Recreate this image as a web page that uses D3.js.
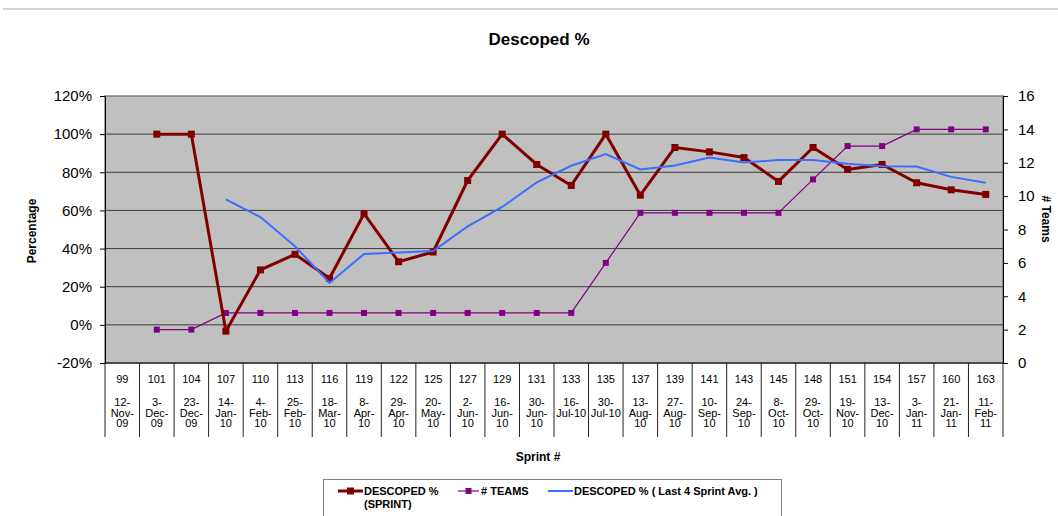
<!DOCTYPE html>
<html><head><meta charset="utf-8">
<script src="https://cdn.jsdelivr.net/npm/d3@7/dist/d3.min.js"></script>
<style>
body{margin:0;background:#fff;}
text{font-family:Arial,"Liberation Sans",sans-serif;fill:#000;}
</style>
</head><body>
<svg id="c" width="1058" height="516"></svg>
<script>
const sprints = ["99","101","104","107","110","113","116","119","122","125","127","129","131","133","135","137","139","141","143","145","148","151","154","157","160","163"];
const dates = ["12-Nov-09","3-Dec-09","23-Dec-09","14-Jan-10","4-Feb-10","25-Feb-10","18-Mar-10","8-Apr-10","29-Apr-10","20-May-10","2-Jun-10","16-Jun-10","30-Jun-10","16-Jul-10","30-Jul-10","13-Aug-10","27-Aug-10","10-Sep-10","24-Sep-10","8-Oct-10","29-Oct-10","19-Nov-10","13-Dec-10","3-Jan-11","21-Jan-11","11-Feb-11"];
const descopedSprint = [null,100,100,-3.3,28.8,37,24.4,58.3,33.1,38.2,75.7,100,84.1,73.1,100,68,93,90.7,87.7,75.2,93,81.5,84.1,74.5,70.8,68.4];
const teams = [null,2,2,3,3,3,3,3,3,3,3,3,3,3,6,9,9,9,9,9,11,13,13,14,14,14];
const descopedAvg4 = [null,null,null,65.8,56.5,41.2,22,37.2,38,38.7,51.6,61.8,74.7,83.4,89.5,81.5,83.6,87.7,85.1,86.5,86.5,84.5,83.2,83,77.6,74.5];
const leftTicks = [-20,0,20,40,60,80,100,120];
const rightTicks = [0,2,4,6,8,10,12,14,16];

const svg = d3.select("#c");
const L = 105, R = 1003, T = 96, B = 363;

const x = d3.scaleBand().domain(sprints).range([L, R]).padding(0);
const yL = d3.scaleLinear().domain([-20, 120]).range([B, T]);
const yR = d3.scaleLinear().domain([0, 16]).range([B, T]);

// top rule
svg.append("line").attr("x1", 3).attr("x2", 1058).attr("y1", 9).attr("y2", 9)
  .attr("stroke", "#d4d4d4").attr("stroke-width", 2);

// title
svg.append("text").attr("x", 539).attr("y", 45).attr("text-anchor", "middle")
  .style("font-size", "17px").style("font-weight", "bold").text("Descoped %");

// plot background
svg.append("rect").attr("x", L).attr("y", T).attr("width", R - L).attr("height", B - T)
  .attr("fill", "#c0c0c0").attr("stroke", "#808080").attr("stroke-width", 1.5);

// gridlines
svg.append("g").selectAll("line").data(leftTicks.filter(d => d > -20 && d < 120)).join("line")
  .attr("x1", L).attr("x2", R).attr("y1", d => yL(d)).attr("y2", d => yL(d))
  .attr("stroke", "#3c3c3c").attr("stroke-width", 1);

// left axis
const gl = svg.append("g").attr("transform", `translate(${L},0)`)
  .call(d3.axisLeft(yL).tickValues(leftTicks).tickFormat(d => d + "%").tickSize(5).tickPadding(8).tickSizeOuter(0));
gl.select(".domain").attr("stroke", "#000");
gl.selectAll("text").style("font-size", "15px").style("font-family", "Arial, 'Liberation Sans', sans-serif");

// right axis
const gr = svg.append("g").attr("transform", `translate(${R},0)`)
  .call(d3.axisRight(yR).tickValues(rightTicks).tickSize(5).tickPadding(10).tickSizeOuter(0));
gr.select(".domain").attr("stroke", "#000");
gr.selectAll("text").style("font-size", "15px").style("font-family", "Arial, 'Liberation Sans', sans-serif");

// category axis line and separators
svg.append("line").attr("x1", L).attr("x2", R).attr("y1", B).attr("y2", B).attr("stroke", "#000");
const bounds = sprints.map(s => x(s)).concat([R]);
svg.append("g").selectAll("line").data(bounds).join("line")
  .attr("x1", d => d).attr("x2", d => d).attr("y1", B).attr("y2", 437)
  .attr("stroke", "#222").attr("stroke-width", 1);

// category labels
const lab = svg.append("g").style("font-size", "11px");
sprints.forEach((s, i) => {
  const cx = x(s) + x.bandwidth() / 2;
  lab.append("text").attr("x", cx).attr("y", 383).attr("text-anchor", "middle").text(s);
  const parts = dates[i].split("-");
  let lines = [parts[0] + "-"];
  const tail = parts[1] + "-" + parts[2];
  const probe = lab.append("text").text(tail);
  const w = probe.node().getComputedTextLength();
  probe.remove();
  if (w <= 31) lines.push(tail); else { lines.push(parts[1] + "-"); lines.push(parts[2]); }
  lines.forEach((ln, k) => {
    lab.append("text").attr("x", cx).attr("y", 406 + k * 10.5).attr("text-anchor", "middle").text(ln);
  });
});

// axis titles
svg.append("text").attr("transform", "translate(36,231) rotate(-90)").attr("text-anchor", "middle")
  .style("font-size", "12px").style("font-weight", "bold").text("Percentage");
svg.append("text").attr("transform", "translate(1042,219) rotate(90)").attr("text-anchor", "middle")
  .style("font-size", "12px").style("font-weight", "bold").text("# Teams");
svg.append("text").attr("x", 538).attr("y", 461).attr("text-anchor", "middle")
  .style("font-size", "12px").style("font-weight", "bold").text("Sprint #");

const cxOf = i => x(sprints[i]) + x.bandwidth() / 2;

// teams series
const teamsPts = teams.map((v, i) => ({i, v})).filter(d => d.v != null);
svg.append("path").datum(teamsPts)
  .attr("d", d3.line().x(d => cxOf(d.i)).y(d => yR(d.v)))
  .attr("fill", "none").attr("stroke", "#800080").attr("stroke-width", 1.2);
svg.append("g").selectAll("rect").data(teamsPts).join("rect")
  .attr("x", d => cxOf(d.i) - 3).attr("y", d => yR(d.v) - 3).attr("width", 6).attr("height", 6)
  .attr("fill", "#800080");

// descoped sprint series
const dsPts = descopedSprint.map((v, i) => ({i, v})).filter(d => d.v != null);
svg.append("path").datum(dsPts)
  .attr("d", d3.line().x(d => cxOf(d.i)).y(d => yL(d.v)))
  .attr("fill", "none").attr("stroke", "#800000").attr("stroke-width", 3).attr("stroke-linejoin", "round");
svg.append("g").selectAll("rect").data(dsPts).join("rect")
  .attr("x", d => cxOf(d.i) - 3.5).attr("y", d => yL(d.v) - 3.5).attr("width", 7).attr("height", 7)
  .attr("fill", "#800000");

// average series
const avPts = descopedAvg4.map((v, i) => ({i, v})).filter(d => d.v != null);
svg.append("path").datum(avPts)
  .attr("d", d3.line().x(d => cxOf(d.i)).y(d => yL(d.v)))
  .attr("fill", "none").attr("stroke", "#3a6eff").attr("stroke-width", 2);

// legend
const lg = svg.append("g");
lg.append("rect").attr("x", 323.5).attr("y", 479.5).attr("width", 458).attr("height", 40)
  .attr("fill", "#fff").attr("stroke", "#808080").attr("stroke-width", 1);
const ly = 491;
lg.append("line").attr("x1", 338).attr("x2", 363).attr("y1", ly).attr("y2", ly).attr("stroke", "#800000").attr("stroke-width", 3);
lg.append("rect").attr("x", 347).attr("y", ly - 3.5).attr("width", 7).attr("height", 7).attr("fill", "#800000");
lg.append("text").attr("x", 364).attr("y", ly + 4).style("font-size", "11px").style("font-weight", "bold").text("DESCOPED %");
lg.append("text").attr("x", 364).attr("y", ly + 17).style("font-size", "11px").style("font-weight", "bold").text("(SPRINT)");
lg.append("line").attr("x1", 458).attr("x2", 479).attr("y1", ly).attr("y2", ly).attr("stroke", "#800080").attr("stroke-width", 1.2);
lg.append("rect").attr("x", 465.5).attr("y", ly - 3).attr("width", 6).attr("height", 6).attr("fill", "#800080");
lg.append("text").attr("x", 481).attr("y", ly + 4).style("font-size", "11px").style("font-weight", "bold").text("# TEAMS");
lg.append("line").attr("x1", 548).attr("x2", 573).attr("y1", ly).attr("y2", ly).attr("stroke", "#3a6eff").attr("stroke-width", 2);
lg.append("text").attr("x", 574).attr("y", ly + 4).style("font-size", "11px").style("font-weight", "bold").text("DESCOPED % ( Last 4 Sprint Avg. )");
</script>
</body></html>
